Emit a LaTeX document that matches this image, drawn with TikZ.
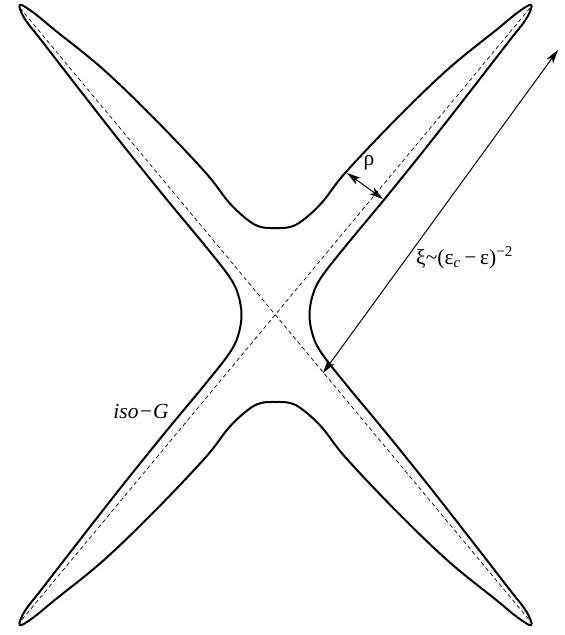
\documentclass[tikz,border=0pt]{standalone}
\usepackage{fontspec}
\setmainfont{Liberation Serif}
\usetikzlibrary{arrows.meta}
\begin{document}
\begin{tikzpicture}[x=1pt,y=-1pt,
  outline/.style={line width=2pt, line join=round},
  asym/.style={line width=0.7pt, dash pattern=on 4pt off 3pt},
  dimarrow/.style={line width=1pt, {Stealth[length=14pt,width=8pt,inset=4pt]}-{Stealth[length=14pt,width=8pt,inset=4pt]}},
  lbl/.style={font=\fontsize{21.5}{26}\selectfont, inner sep=0pt}]
\useasboundingbox (0,0) rectangle (565,635);
\coordinate (C) at (275.5,315);
% asymptote end points
\coordinate (aTL) at (20,8);
\coordinate (aBR) at (531,622);
\coordinate (aTR) at (530,8);
\coordinate (aBL) at (20,622);
\draw[asym] (aTL) -- (aBR);
\draw[asym] (aTR) -- (aBL);
% iso-G outline
\begin{scope}[shift={(C)}, y=1pt]
\draw[outline] plot[smooth cycle, tension=0.6] coordinates {
(0,87) (14.5,88) (27,94.5) (46.3,112.3) (70.4,142.9) (122.2,197.5) (173,246.3) (220.5,284.8) (242.6,302.8) (255.8,310.1) (250.7,296.1) (233.6,273.9) (196.9,226.5) (153.7,171.3) (109.8,116.8) (71.5,70.6) (46.8,39.2) (37.5,20.9) (34,0)
(37.5,-20.9) (46.8,-39.2) (71.5,-70.6) (109.8,-116.8) (153.7,-171.3) (196.9,-226.5) (233.6,-273.9) (250.7,-296.1) (255.8,-310.1) (242.6,-302.8) (220.5,-284.8) (173,-246.3) (122.2,-197.5) (70.4,-142.9) (46.3,-112.3) (27,-94.5) (14.5,-88) (0,-87)
(-14.5,-88) (-27,-94.5) (-46.3,-112.3) (-70.4,-142.9) (-122.2,-197.5) (-173,-246.3) (-220.5,-284.8) (-242.6,-302.8) (-255.8,-310.1) (-250.7,-296.1) (-233.6,-273.9) (-196.9,-226.5) (-153.7,-171.3) (-109.8,-116.8) (-71.5,-70.6) (-46.8,-39.2) (-37.5,-20.9) (-34,0)
(-37.5,20.9) (-46.8,39.2) (-71.5,70.6) (-109.8,116.8) (-153.7,171.3) (-196.9,226.5) (-233.6,273.9) (-250.7,296.1) (-255.8,310.1) (-242.6,302.8) (-220.5,284.8) (-173,246.3) (-122.2,197.5) (-70.4,142.9) (-46.3,112.3) (-27,94.5) (-14.5,88)
};
\end{scope}
% rho arrow
\coordinate (rhoA) at (347,173);
\coordinate (rhoB) at (383,199);
\draw[dimarrow] (rhoA) -- (rhoB);
\node[lbl] (rho) at (369,163) {ρ};
% xi arrow
\coordinate (xiA) at (323,373);
\coordinate (xiB) at (558,50);
\draw[dimarrow] (xiA) -- (xiB);
\node[lbl, anchor=west] (xi) at (416,258) {ξ\textasciitilde(ε\textsubscript{\textit{c}}\,−\,ε)\textsuperscript{−2}};
\node[lbl] (iso) at (141,411) {\textit{iso−G}};
\end{tikzpicture}
\end{document}
